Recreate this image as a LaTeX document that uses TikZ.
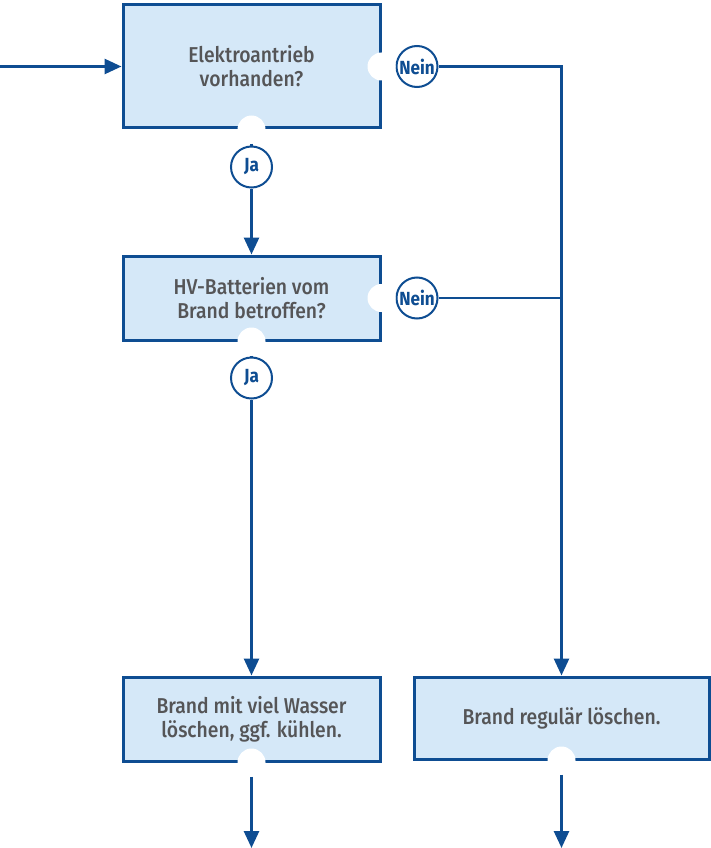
\documentclass[tikz,border=0pt]{standalone}
\usepackage{fontspec}
\setmainfont{Fira Sans}[FakeStretch=0.9]
\newfontfamily\mittel{Fira Sans Medium}[FakeStretch=0.9]
\usetikzlibrary{arrows.meta}

\definecolor{fwblue}{HTML}{0E4D92}
\definecolor{fwfill}{HTML}{D5E8F8}
\definecolor{fwgray}{HTML}{555557}

\begin{document}
\begin{tikzpicture}[x=1pt,y=-1pt,
  box/.style={draw=fwblue, fill=fwfill, line width=3pt, minimum width=257pt,
    text=fwgray, align=center, inner sep=0pt, font=\mittel\fontsize{21.5}{24}\selectfont},
  tag/.style={circle, draw=fwblue, fill=white, line width=2pt, minimum size=41pt,
    inner sep=0pt, text=fwblue, font=\fontsize{19}{20}\selectfont\bfseries},
  conn/.style={draw=fwblue, line width=2.8pt},
  pfeil/.style={conn, -{Triangle[length=17pt,width=15pt]}},
  kerbe/.style={fill=white}]

\useasboundingbox (0,0) rectangle (711,848);

\coordinate (start) at (0,66.5);
\coordinate (unten) at (0,848);

\node[box, minimum height=123pt] (antrieb) at (251.5,66.5) {Elektroantrieb\\vorhanden?};
\node[box, minimum height=84pt] (batterie) at (251.5,298) {HV-Batterien vom\\Brand betroffen?};
\node[box, minimum height=84pt] (wasser) at (251.5,719) {Brand mit viel Wasser\\löschen, ggf. kühlen.};
\node[box, minimum width=295pt, minimum height=82pt] (regulaer) at (561.5,718) {Brand regulär löschen.};

\node[tag] (ja1) at (251.5,167) {Ja};
\node[tag] (ja2) at (251.5,378) {Ja};
\node[tag] (nein1) at (417,66.5) {Nein};
\node[tag] (nein2) at (417,298) {Nein};

\coordinate (knick) at (regulaer.north |- nein1);
\coordinate (knoten) at (regulaer.north |- nein2);

% Verbindungen
\draw[pfeil] (start) -- (antrieb.west);
\draw[conn, shorten <=14pt] (antrieb.east) -- (nein1.west);
\draw[pfeil] (nein1.east) -- (knick) -- (regulaer.north);
\draw[conn, shorten <=14pt] (antrieb.south) -- (ja1.north);
\draw[pfeil] (ja1.south) -- (batterie.north);
\draw[conn, shorten <=14pt] (batterie.east) -- (nein2.west);
\draw[conn] (nein2.east) -- (knoten);
\draw[conn, shorten <=14pt] (batterie.south) -- (ja2.north);
\draw[pfeil] (ja2.south) -- (wasser.north);
\draw[pfeil, shorten <=14pt] (wasser.south) -- (wasser.south |- unten);
\draw[pfeil, shorten <=14pt] (regulaer.south) -- (regulaer.south |- unten);

% Kerben
\foreach \k in {antrieb.east, antrieb.south, batterie.east, batterie.south, wasser.south, regulaer.south}
  \fill[kerbe] (\k) circle (14pt);

\end{tikzpicture}
\end{document}
